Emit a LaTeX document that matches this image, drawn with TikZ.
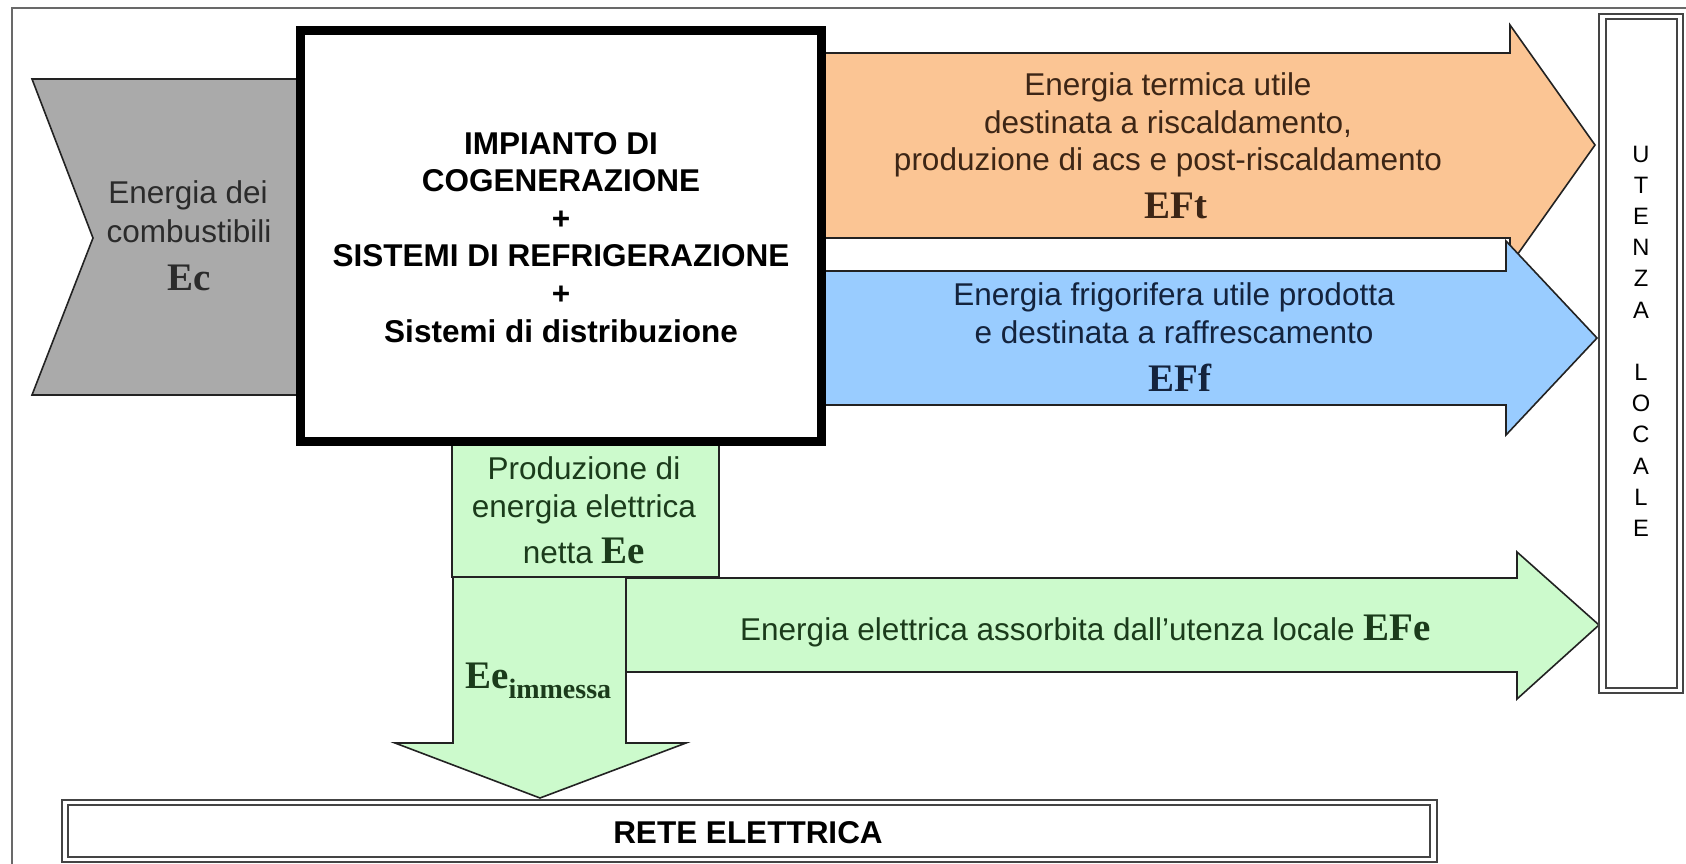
\documentclass[tikz,border=0pt]{standalone}
\usepackage{fontspec}
\setmainfont{Liberation Sans}
\newfontfamily\tnrfam{Liberation Serif}
\newcommand\bigtnr[1]{{\tnrfam\bfseries\fontsize{39}{44}\selectfont #1}}
\definecolor{grayfill}{HTML}{AAAAAA}
\definecolor{orangefill}{HTML}{FBC594}
\definecolor{bluefill}{HTML}{99CCFF}
\definecolor{greenfill}{HTML}{CCFACC}
\definecolor{graytext}{HTML}{2B2B2B}
\definecolor{orangetext}{HTML}{3D2616}
\definecolor{bluetext}{HTML}{14233D}
\definecolor{greentext}{HTML}{1B3B1B}
\definecolor{edge}{HTML}{222222}
\definecolor{dbledge}{HTML}{444444}
\begin{document}
\begin{tikzpicture}[x=1pt,y=-1pt,
  flow/.style={draw=edge, line width=1.6pt, line join=miter},
  dblline/.style={draw=dbledge, line width=2pt},
  frameline/.style={draw=dbledge!80, line width=2pt},
  sans/.style={inner sep=0pt, anchor=base, font=\fontsize{31.5}{37}\selectfont},
  bsans/.style={inner sep=0pt, anchor=base, font=\bfseries\fontsize{31.5}{37}\selectfont},
  bigtxt/.style={inner sep=0pt, anchor=base},
  ulet/.style={inner sep=0pt, anchor=base, font=\fontsize{23.7}{26}\selectfont}]
\useasboundingbox (0,0) rectangle (1686,864);
% outer frame (cropped on right and bottom)
\draw[frameline] (12,8) rectangle (1720,900);
% fuel input chevron
\path[flow, fill=grayfill] (32,79) -- (300,79) -- (300,395) -- (32,395) -- (93,238) -- cycle;
% thermal energy arrow
\path[flow, fill=orangefill] (821,53) -- (1510,53) -- (1510,25) -- (1595,145) -- (1510,265) -- (1510,238) -- (821,238) -- cycle;
% cooling energy arrow
\path[flow, fill=bluefill] (821,271) -- (1506,271) -- (1506,241) -- (1597,338) -- (1506,435) -- (1506,405) -- (821,405) -- cycle;
% electric production box
\path[flow, fill=greenfill] (452,441) rectangle (719,577);
% down arrow to grid
\path[flow, fill=greenfill] (453,577) -- (626,577) -- (626,743) -- (686,743) -- (540,798) -- (395,743) -- (453,743) -- cycle;
% electric energy to local user
\path[flow, fill=greenfill] (626,578) -- (1517,578) -- (1517,552) -- (1599,625) -- (1517,699) -- (1517,672) -- (626,672) -- cycle;
% main plant box
\draw[line width=9pt, fill=white] (300,31) rectangle (821,441);
% RETE ELETTRICA double box
\draw[dblline] (62,800) rectangle (1437,862);
\draw[dblline] (68,805) rectangle (1430,857);
% UTENZA LOCALE double box
\draw[dblline] (1599,14) rectangle (1683,693);
\draw[dblline] (1606,19) rectangle (1677,688);

% texts
\node[sans, text=graytext] (ec1) at (188,203) {Energia dei};
\node[sans, text=graytext] (ec2) at (189,242) {combustibili};
\node[bigtxt, text=graytext] (ec3) at (189,290) {\bigtnr{Ec}};

\node[bsans] (m1) at (561,154) {IMPIANTO DI};
\node[bsans] (m2) at (561,191.6) {COGENERAZIONE};
\node[bsans] (m3) at (561,229.2) {+};
\node[bsans] (m4) at (561,266.8) {SISTEMI DI REFRIGERAZIONE};
\node[bsans] (m5) at (561,304.4) {+};
\node[bsans] (m6) at (561,342) {Sistemi di distribuzione};

\node[sans, text=orangetext] (t1) at (1168,96) {Energia termica utile};
\node[sans, text=orangetext] (t2) at (1168,133.5) {destinata a riscaldamento,};
\node[sans, text=orangetext] (t3) at (1168,171) {produzione di acs e post-riscaldamento};
\node[bigtxt, text=orangetext] (t4) at (1176,218) {\bigtnr{EFt}};

\node[sans, text=bluetext] (f1) at (1174,305) {Energia frigorifera utile prodotta};
\node[sans, text=bluetext] (f2) at (1174,343) {e destinata a raffrescamento};
\node[bigtxt, text=bluetext] (f3) at (1180,391) {\bigtnr{EFf}};

\node[sans, text=greentext] (e1) at (584,479) {Produzione di};
\node[sans, text=greentext] (e2) at (584,517) {energia elettrica};
\node[sans, text=greentext] (e3) at (584,563) {netta \bigtnr{Ee}};

\node[bigtxt, anchor=base west, text=greentext] (ei) at (465,688) {\bigtnr{Ee}\raisebox{-10pt}{\tnrfam\bfseries\fontsize{28}{30}\selectfont immessa}};

\node[sans, anchor=base west, text=greentext] (efe) at (740,640) {Energia elettrica assorbita dall’utenza locale \bigtnr{EFe}};

\node[bsans] (rete) at (748,843) {RETE ELETTRICA};

\foreach \l/\k in {U/0,T/1,E/2,N/3,Z/4,A/5,L/7,O/8,C/9,A/10,L/11,E/12}
  \node[ulet] (ut\k) at (1641,{162+31.2*\k}) {\l};
\end{tikzpicture}
\end{document}
